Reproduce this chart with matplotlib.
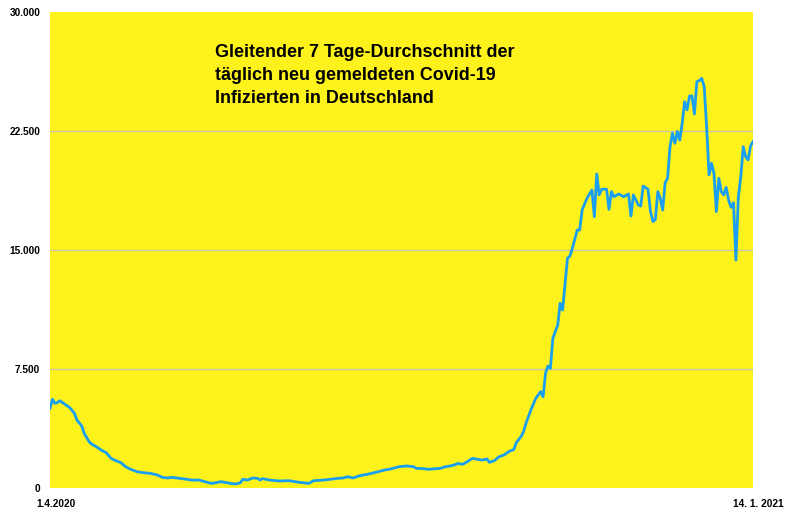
import matplotlib
matplotlib.use("Agg")
import matplotlib.pyplot as plt
import matplotlib.transforms as mtransforms

# Days since 1.4.2020 and 7-day average of new infections
days = [0, 1, 2, 3, 4, 6, 8, 10, 11, 13, 14, 16, 17, 19, 21, 23, 25, 27, 29, 31,
        33, 36, 38, 41, 44, 46, 48, 50, 53, 56, 58, 61, 66, 68, 70, 74, 76, 78, 79, 81,
        83, 85, 86, 87, 90, 94, 98, 102, 106, 108, 112, 115, 118, 120, 122, 124, 127, 130, 134, 137,
        139, 141, 143, 146, 149, 150, 153, 155, 158, 160, 162, 164, 166, 167, 169, 171, 173, 175, 177, 179,
        180, 182, 184, 186, 188, 190, 191, 193, 194, 195, 197, 199, 201, 202, 203, 204, 205, 206, 208, 209,
        210, 212, 213, 214, 216, 217, 218, 219, 220, 222, 223, 224, 225, 226, 228, 229, 230, 231, 233, 235,
        237, 238, 239, 241, 242, 243, 245, 246, 247, 248, 249, 250, 251, 252, 253, 254, 255, 256, 257, 258,
        259, 260, 261, 262, 263, 264, 265, 266, 267, 268, 269, 270, 271, 272, 273, 274, 275, 276, 277, 278,
        279, 280, 281, 282, 283, 284, 285, 286, 287, 288]
cases = [5020, 5590, 5340, 5380, 5500, 5290, 5080, 4710, 4290, 3910, 3450, 2920, 2770, 2600, 2390, 2230, 1870, 1720, 1600, 1340,
         1180, 1010, 970, 925, 820, 670, 630, 670, 610, 550, 500, 500, 290, 330, 400, 290, 250, 330, 550, 500,
         630, 610, 500, 590, 500, 440, 460, 360, 290, 460, 500, 550, 610, 630, 710, 630, 780, 860, 1010, 1130,
         1180, 1260, 1340, 1390, 1340, 1240, 1220, 1180, 1220, 1240, 1340, 1390, 1470, 1550, 1490, 1660, 1870, 1810, 1760, 1830,
         1620, 1720, 1970, 2080, 2300, 2420, 2850, 3250, 3550, 4080, 4920, 5650, 6070, 5750, 7230, 7690, 7540, 9430, 10270, 11640,
         11220, 14480, 14620, 15110, 16260, 16260, 17520, 17900, 18260, 18780, 17100, 19790, 18470, 18830, 18830, 17560, 18680, 18360, 18530, 18360,
         18530, 17140, 18470, 17840, 17770, 19030, 18830, 17420, 16790, 16930, 18680, 18260, 17520, 19240, 19520, 21510, 22360, 21730, 22470, 21930,
         22990, 24350, 23830, 24710, 24710, 23570, 25610, 25670, 25820, 25300, 22780, 19730, 20470, 19840, 17420, 19520, 18680, 18470, 18950, 18150,
         17690, 17980, 14370, 18360, 19620, 21510, 20880, 20680, 21560, 21830]

y_ticks = [0, 7500, 15000, 22500, 30000]
y_labels = ["0", "7.500", "15.000", "22.500", "30.000"]
grid_values = [7500, 15000, 22500]
x_ticks = [0, 288]
x_labels = ["1.4.2020", "14. 1. 2021"]
title_lines = ["Gleitender 7 Tage-Durchschnitt der",
               "täglich neu gemeldeten Covid-19",
               "Infizierten in Deutschland"]

plt.rcParams['font.family'] = ['Liberation Sans', 'DejaVu Sans']

fig = plt.figure(figsize=(8, 5.24), dpi=100)
fig.patch.set_facecolor('white')
ax = fig.add_axes([50/800, 36/524, 703/800, 476/524])
ax.set_facecolor('#fdf21c')

for g in grid_values:
    ax.axhline(g, color='#c9c6a8', linewidth=1.0, zorder=1)

ax.plot(days, cases, color='#1a9ff0', linewidth=2.0, solid_joinstyle='round', zorder=3)

ax.set_xlim(0, 288)
ax.set_ylim(0, 30000)
ax.set_yticks(y_ticks)
ax.set_yticklabels(y_labels, fontsize=7.3, fontweight='bold')
ax.set_xticks(x_ticks)
ax.set_xticklabels(x_labels, fontsize=7.3, fontweight='bold')
ax.tick_params(axis='y', length=0, pad=7)
ax.tick_params(axis='x', length=0, pad=8)
for s in ax.spines.values():
    s.set_visible(False)

offs = [6, 5]
for lbl, o in zip(ax.get_xticklabels(), offs):
    lbl.set_transform(lbl.get_transform() + mtransforms.ScaledTranslation(o/100, 0, fig.dpi_scale_trans))

baselines = [57, 80, 103]
for line, b in zip(title_lines, baselines):
    fig.text(215/800, 1 - b/524, line, fontsize=12.9, fontweight='bold', color='black',
             ha='left', va='baseline')

fig.savefig('out.png', dpi=100, facecolor='white')
